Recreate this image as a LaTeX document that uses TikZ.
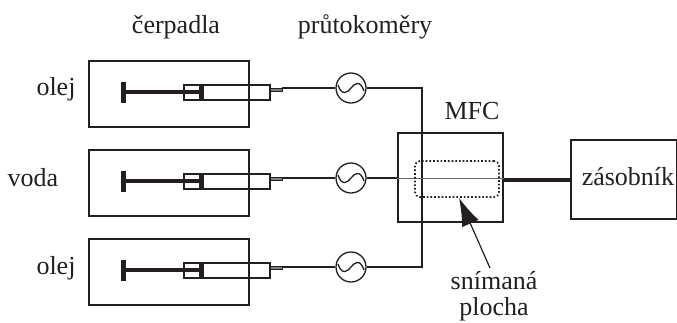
\documentclass[tikz,border=0pt]{standalone}
\usepackage{fontspec}
\setmainfont{Liberation Serif}
\usetikzlibrary{arrows.meta}
\definecolor{ink}{HTML}{231F20}
\tikzset{
  x=1pt,y=-1pt,
  every path/.style={color=ink},
  label text/.style={inner sep=0pt,font=\fontsize{26}{28}\selectfont,text=ink},
  pump/.style={draw,line width=2.4pt},
  meter/.style={draw,line width=1.3pt,circle,minimum size=30pt,inner sep=0pt},
  pipe/.style={line width=2pt},
  thinpipe/.style={line width=1.2pt},
  tubebox/.style={draw,line width=1.3pt},
  rod/.style={line width=3.6pt},
  boxb/.style={draw,line width=2.3pt},
}
\newcommand{\wave}[1]{\draw[line width=1.3pt] ([xshift=-13pt,yshift=3pt]#1.center) .. controls ([xshift=-9pt,yshift=-9pt]#1.center) and ([xshift=-3pt,yshift=-4pt]#1.center) .. (#1.center) .. controls ([xshift=3pt,yshift=4pt]#1.center) and ([xshift=9pt,yshift=9pt]#1.center) .. ([xshift=13pt,yshift=-3pt]#1.center);}
\newcommand{\syringe}[2]{%
  \draw[pump] (89,#1) rectangle (249,#1+66);
  \draw[tubebox] (184,#1+24) rectangle (270,#1+39);
  \fill[ink] (199,#1+24) rectangle (204,#1+39);
  \draw[rod] (122,#1+31) -- (199,#1+31);
  \fill[ink] (121,#1+21) rectangle (126,#1+42);
  \draw[line width=.9pt,fill=gray] (270,#1+27) rectangle (282,#1+30);
}
\begin{document}
\begin{tikzpicture}
\useasboundingbox (0,0) rectangle (677,322);
\syringe{61}{}
\syringe{150}{}
\syringe{239}{}
\node[meter] (m1) at (351,88) {};
\node[meter] (m2) at (351,178) {};
\node[meter] (m3) at (351,267) {};
\wave{m1}\wave{m2}\wave{m3}
\coordinate (t1) at (282,88);
\coordinate (t2) at (282,178);
\coordinate (t3) at (282,267);
\node[boxb,minimum width=105pt,minimum height=89pt,inner sep=0pt] (mfc) at (450.5,177.5) {};
\node[boxb,minimum width=106pt,minimum height=79pt,inner sep=0pt] (zas) at (624,179.5) {};
\node[label text] (zt) at (628,177) {zásobník};
\coordinate (c1) at (422,88);
\coordinate (c3) at (422,267);
\draw[pipe] (t1) -- (m1) (m1) -- (c1) -- (c1 |- mfc.north);
\draw[pipe] (t3) -- (m3) (m3) -- (c3) -- (c3 |- mfc.south);
\draw[pipe] (t2) -- (m2) (m2) -- (m2 -| mfc.west);
\draw[thinpipe] (c1 |- mfc.north) -- (c3 |- mfc.south);
\draw[line width=.9pt,color=black!60] (m2 -| mfc.west) -- (m2 -| mfc.east);
\draw[line width=4pt] (mfc.east |- zas.west) -- (zas.west);
\node[draw,dotted,line width=1.7pt,rounded corners=5pt,minimum width=84pt,minimum height=36pt,inner sep=0pt] (area) at (457,179) {};
\coordinate (tail) at (490,268);
\draw[line width=1.2pt,-{Latex[length=28pt,width=18pt]}] (tail) -- ([xshift=2pt]area.south);
\node[label text] (a) at (176,27) {čerpadla};
\node[label text] (b) at (365,27) {průtokoměry};
\node[label text] (c) at (472,111) {MFC};
\node[label text] (d) at (56,89) {olej};
\node[label text] (e) at (33,178) {voda};
\node[label text] (f) at (56,268) {olej};
\node[label text] (g) at (494,281) {snímaná};
\node[label text] (h) at (494,309) {plocha};
\end{tikzpicture}
\end{document}
